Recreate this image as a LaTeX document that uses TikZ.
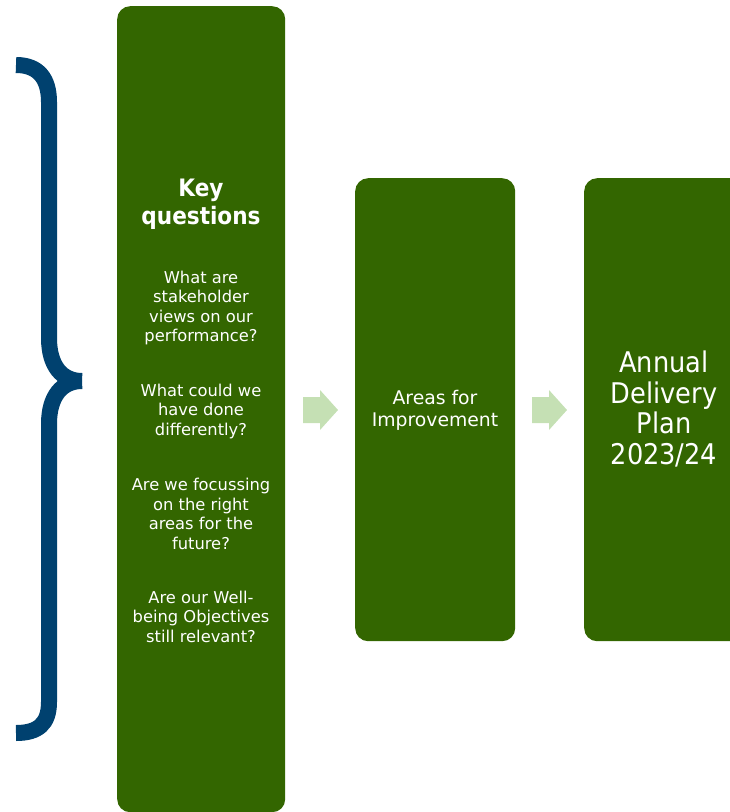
\documentclass[tikz,border=0pt]{standalone}
\usepackage{fontspec}
\setmainfont{DejaVu Sans}
\newfontfamily\condfont{DejaVu Sans Condensed}
\definecolor{boxgreen}{HTML}{336600}
\definecolor{arrowgreen}{HTML}{C5E0B4}
\definecolor{braceblue}{HTML}{00416F}
\tikzset{
  panel/.style={fill=boxgreen, draw=none, rounded corners=13pt, inner sep=0pt, anchor=north west},
  qtext/.style={text=white, align=center, font=\fontsize{16.3}{19.5}\selectfont, inner sep=0pt},
  flowarrow/.style={fill=arrowgreen, draw=none},
}
\begin{document}
\begin{tikzpicture}[x=1pt,y=-1pt]
\useasboundingbox (0,0) rectangle (730,812);
\clip (0,0) rectangle (730,812);
% brace
\draw[braceblue, line width=16pt]
  (16,65) .. controls (38,65) and (49,78) .. (49,102) -- (49,338)
  .. controls (49,366) and (62,381) .. (82,381);
\draw[braceblue, line width=16pt]
  (82,381) .. controls (62,381) and (49,396) .. (49,424) -- (49,702)
  .. controls (49,724) and (38,733) .. (16,733);
% panels
\node[panel, minimum width=168pt, minimum height=806pt] (kq) at (117,6) {};
\node[panel, minimum width=160pt, minimum height=463pt] (afi) at (355,178) {};
\node[panel, minimum width=180pt, minimum height=463pt] (adp) at (584,178) {};
% arrows
\fill[flowarrow] (303,397) -- (320,397) -- (320,390) -- (338,410) -- (320,430) -- (320,423) -- (303,423) -- cycle;
\fill[flowarrow] (532,397) -- (549,397) -- (549,390) -- (567,410) -- (549,430) -- (549,423) -- (532,423) -- cycle;
% texts
\node[qtext, font=\condfont\bfseries\fontsize{24}{28}\selectfont] (t0) at (201,204) {Key\\questions};
\node[qtext] (t1) at (201,308) {What are\\stakeholder\\views on our\\performance?};
\node[qtext] (t2) at (201,411) {What could we\\have done\\differently?};
\node[qtext] (t3) at (201,514) {Are we focussing\\on the right\\areas for the\\future?};
\node[qtext] (t4) at (201,616.5) {Are our Well-\\being Objectives\\still relevant?};
\node[qtext, font=\fontsize{18.8}{22}\selectfont] (t5) at (435,410) {Areas for\\Improvement};
\node[qtext, font=\condfont\fontsize{28.5}{30.5}\selectfont] (t6) at (664,409) {Annual\\Delivery\\Plan\\2023/24};
\end{tikzpicture}
\end{document}
